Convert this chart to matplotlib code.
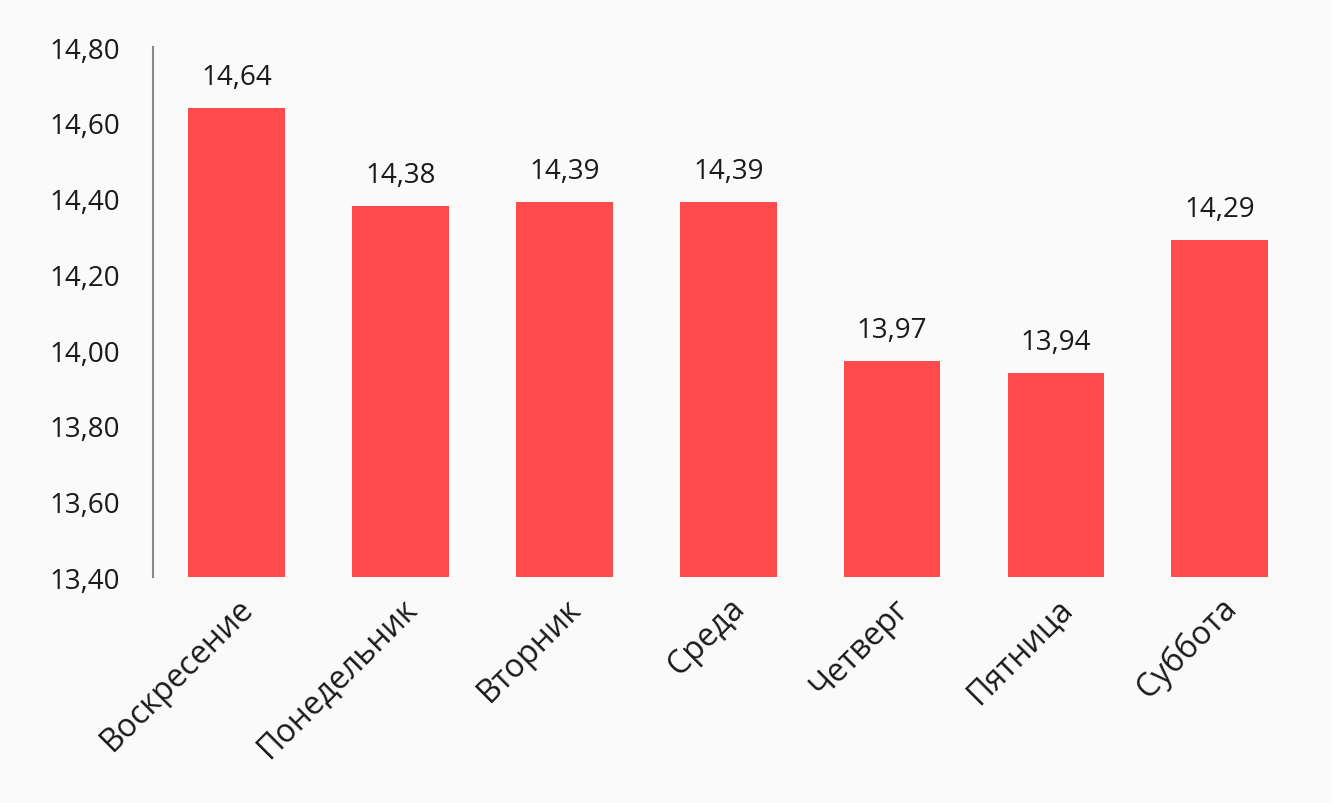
import matplotlib.pyplot as plt
from matplotlib.ticker import FuncFormatter

# Days of week and values
days = ['Воскресение', 'Понедельник', 'Вторник', 'Среда', 'Четверг', 'Пятница', 'Суббота']
values = [14.64, 14.38, 14.39, 14.39, 13.97, 13.94, 14.29]

bar_color = '#FF4B4B'
bg_color = '#FAFAFA'

plt.rcParams['font.family'] = ['Open Sans', 'DejaVu Sans']

fig = plt.figure(figsize=(13.31, 8.04), dpi=100, facecolor=bg_color)
ax = fig.add_axes([0.115, 0.281, 0.863, 0.659], facecolor=bg_color)

x = range(len(days))
ax.bar(x, values, width=0.59, color=bar_color, zorder=2)

# Value labels above bars
for xi, v in zip(x, values):
    ax.text(xi, v + 0.045, f'{v:.2f}'.replace('.', ','), ha='center', va='bottom',
            fontsize=20, color='#1a1a1a')

ax.set_ylim(13.40, 14.80)
ax.set_yticks([13.40 + 0.2 * i for i in range(8)])
ax.yaxis.set_major_formatter(FuncFormatter(lambda v, p: f'{v:.2f}'.replace('.', ',')))
ax.set_xlim(-0.51, len(days) - 0.5)
ax.set_xticks(list(x))
ax.set_xticklabels(days, rotation=45, ha='right', rotation_mode='anchor', fontsize=23)

ax.tick_params(axis='both', length=0, colors='#1a1a1a')
ax.tick_params(axis='y', pad=24, labelsize=20)
ax.tick_params(axis='x', pad=10)

for side in ['top', 'right', 'bottom']:
    ax.spines[side].set_visible(False)
ax.spines['left'].set_color('#888888')
ax.spines['left'].set_linewidth(1.5)

plt.savefig('out.png', dpi=100, facecolor=bg_color)
plt.close()
